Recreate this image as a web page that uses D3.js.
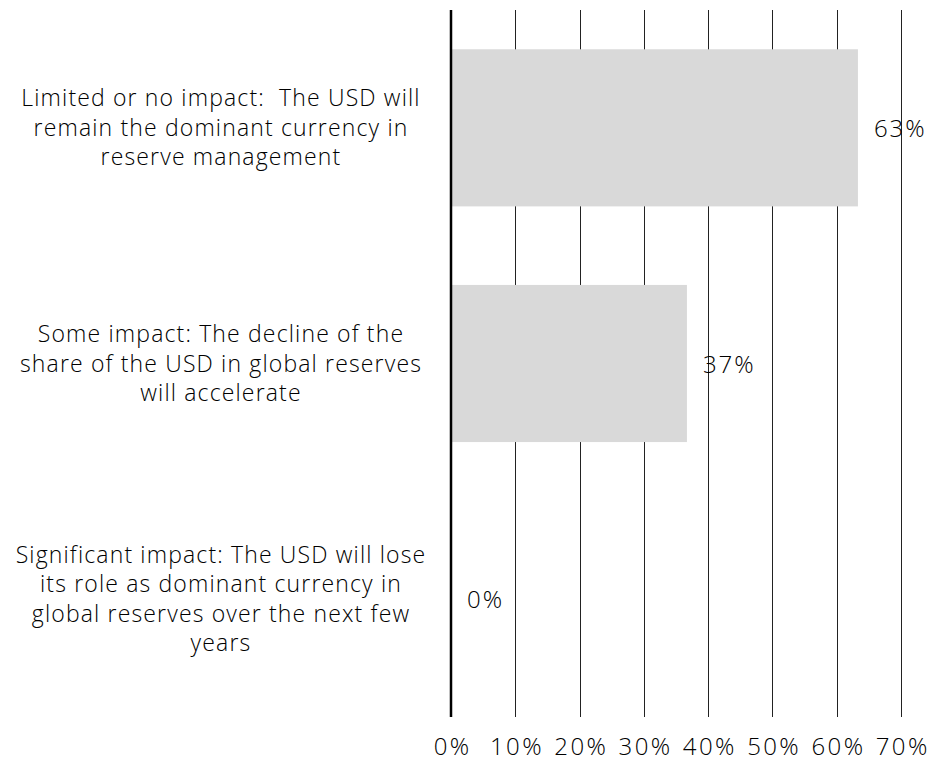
<!DOCTYPE html>
<html>
<head>
<meta charset="utf-8">
<script src="https://cdn.jsdelivr.net/npm/d3@7"></script>
<style>
  html, body { margin: 0; padding: 0; background: #fff; }
  svg { display: block; }
  text { font-family: "Open Sans", "Noto Sans", sans-serif; fill: #000; font-weight: 300; }
</style>
</head>
<body>
<script>
const categories = [
  "Limited or no impact:  The USD will\nremain the dominant currency in\nreserve management",
  "Some impact: The decline of the\nshare of the USD in global reserves\nwill accelerate",
  "Significant impact: The USD will lose\nits role as dominant currency in\nglobal reserves over the next few\nyears"
];
const values = [63.3, 36.7, 0];
const valueLabels = ["63%", "37%", "0%"];
const tickValues = [0, 10, 20, 30, 40, 50, 60, 70];
const tickLabels = ["0%", "10%", "20%", "30%", "40%", "50%", "60%", "70%"];

const W = 930, H = 761;
const plotLeft = 451, plotRight = 901, plotTop = 10, plotBottom = 717;

const svg = d3.select("body").append("svg").attr("width", W).attr("height", H);

const x = d3.scaleLinear().domain([0, 70]).range([plotLeft, plotRight]);
const y = d3.scaleBand().domain(categories).range([plotTop, plotBottom])
  .paddingInner(1/3).paddingOuter(1/6);

// grid lines
svg.append("g").selectAll("line").data(tickValues.filter(d => d > 0)).join("line")
  .attr("x1", d => Math.round(x(d)) + 0.5).attr("x2", d => Math.round(x(d)) + 0.5)
  .attr("y1", plotTop).attr("y2", plotBottom)
  .attr("stroke", "#222").attr("stroke-width", 1);

// bars
svg.append("g").selectAll("rect").data(categories).join("rect")
  .attr("x", x(0))
  .attr("y", d => y(d))
  .attr("width", (d, i) => x(values[i]) - x(0))
  .attr("height", y.bandwidth())
  .attr("fill", "#d9d9d9");

// zero axis line
svg.append("line")
  .attr("x1", x(0)).attr("x2", x(0))
  .attr("y1", plotTop).attr("y2", plotBottom)
  .attr("stroke", "#000").attr("stroke-width", 2.5);

// value labels
svg.append("g").selectAll("text").data(categories).join("text")
  .attr("x", (d, i) => x(values[i]) + 16)
  .attr("y", d => y(d) + y.bandwidth() / 2 + 9)
  .attr("font-size", 24)
  .attr("letter-spacing", 2)
  .text((d, i) => valueLabels[i]);

// x tick labels
const xAxis = d3.axisBottom(x).tickValues(tickValues)
  .tickFormat((d, i) => tickLabels[i]).tickSize(0).tickPadding(0);
const gx = svg.append("g").attr("transform", `translate(0, ${plotBottom + 21})`).call(xAxis);
gx.select(".domain").remove();
gx.selectAll("text").attr("font-size", 24).attr("font-family", null).attr("fill", "#000")
  .attr("letter-spacing", 2.4).attr("dx", 1.2)
  .attr("dy", "0.71em").attr("y", 0);

// category labels
const lineH = 29.5;
const catG = svg.append("g");
categories.forEach(c => {
  const lines = c.split("\n");
  const cy = y(c) + y.bandwidth() / 2;
  const t = catG.append("text")
    .attr("text-anchor", "middle")
    .attr("font-size", 23)
    .attr("letter-spacing", 1.15)
    .style("white-space", "pre");
  lines.forEach((ln, i) => {
    t.append("tspan")
      .attr("x", 221)
      .attr("y", cy + 8 + (i - (lines.length - 1) / 2) * lineH)
      .text(ln);
  });
});
</script>
</body>
</html>
